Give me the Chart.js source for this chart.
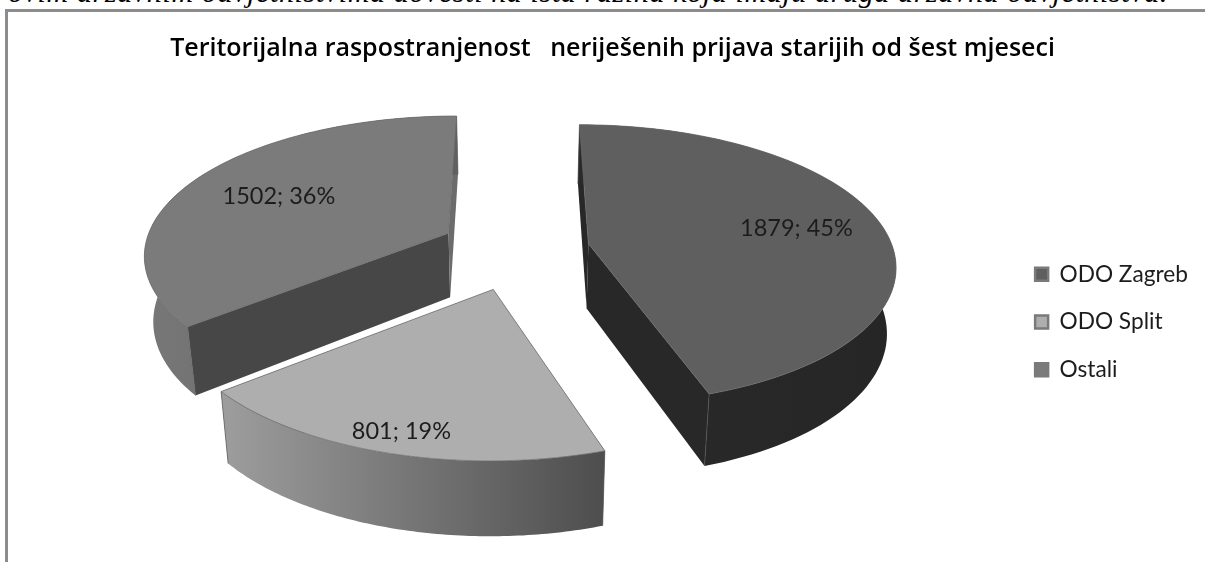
<!DOCTYPE html>
<html><head><meta charset="utf-8">
<style>
html,body{margin:0;padding:0;background:#fff;width:1205px;height:562px;overflow:hidden}
#line{position:absolute;left:8px;top:-25px;font:italic 30px "Liberation Serif",serif;white-space:nowrap;color:#000;letter-spacing:0.63px}
#frame{position:absolute;left:5px;top:9px;width:1210px;height:570px;border:3px solid #8c8c8c;box-sizing:border-box}
#wrap{position:absolute;left:0;top:0;width:1205px;height:562px}
</style>
<script src="https://cdn.jsdelivr.net/npm/chart.js@4"></script>
</head><body>
<div id="line">ovim državnim odvjetništvima dovesti na ista razina koja imaju druga državna odvjetništva.</div>
<div id="frame"></div>
<div id="wrap"><canvas id="c" width="1205" height="562"></canvas></div>
<script>
const titleText = 'Teritorijalna raspostranjenost   neriješenih prijava starijih od šest mjeseci';
const categories = ['ODO Zagreb', 'ODO Split', 'Ostali'];
const seriesValues = [1879, 801, 1502];
const topColors = ['#5f5f5f', '#aeaeae', '#7b7b7b'];
const faceColors = ['#282828', '#777777', '#474747'];
const endFaceColors = ['#282828', '#777777', '#6c6c6c'];
const rimLeft = ['#2a2a2a', '#9c9c9c', '#777777'];
const rimRight = ['#262626', '#4e4e4e', '#5f5f5f'];
const cornerLines = ['#555555', '#5a5a5a', '#666666'];
const labelReach = [0.71, 0.88, 0.66];
const paintOrder = [2, 0, 1];
const P = {cx:515, vy:-1070, yh:1320, d:2850, rx:305, rz:310, exX:0.87, ext:65, xk:0.00012};

function project(X, Z, h){
  const f = P.d/(P.d-Z);
  return [P.cx + X*f*(1+P.xk*Z)*(1-0.024*h), P.vy + P.yh*f + h*P.ext*f];
}
function locate(el, theta, r, h){
  const a0 = el.startAngle+Math.PI/2, a1 = el.endAngle+Math.PI/2, mid=(a0+a1)/2;
  const off = el.options.offset;
  const ox = Math.sin(mid)*off*P.exX, oz = -Math.cos(mid)*off;
  const c = Math.cos(theta);
  return project(ox + P.rx*r*Math.sin(theta), oz - P.rz*r*(0.96*c-0.04*c*c), h);
}
function poly(ctx, pts, fill, stroke){
  ctx.beginPath();
  pts.forEach((p,i)=> i?ctx.lineTo(p[0],p[1]):ctx.moveTo(p[0],p[1]));
  ctx.closePath();
  ctx.fillStyle = fill; ctx.fill();
  if(stroke){ctx.strokeStyle=stroke;ctx.lineWidth=0.7;ctx.stroke();}
}
const pie3d = {
  id:'pie3d',
  beforeDatasetsDraw(chart){
    const ctx = chart.ctx, meta = chart.getDatasetMeta(0);
    ctx.save();
    paintOrder.forEach(i=>{
      const el = meta.data[i];
      const a0 = el.startAngle+Math.PI/2, a1 = el.endAngle+Math.PI/2;
      const n = 90, top=[], low=[];
      for(let k=0;k<=n;k++){
        const t=a0+(a1-a0)*k/n;
        top.push(locate(el,t,1,0)); low.push(locate(el,t,1,1));
      }
      const apex=locate(el,a0,0,0), apexLow=locate(el,a0,0,1);
      poly(ctx,[apex,top[0],low[0],apexLow],faceColors[i]);
      poly(ctx,[apex,top[n],low[n],apexLow],endFaceColors[i]);
      const xs=low.map(p=>p[0]);
      const g=ctx.createLinearGradient(Math.min(...xs),0,Math.max(...xs),0);
      g.addColorStop(0,rimLeft[i]); g.addColorStop(1,rimRight[i]);
      poly(ctx,top.concat(low.slice().reverse()),g);
      ctx.strokeStyle=cornerLines[i];ctx.lineWidth=0.7;
      [0,n].forEach(k=>{ctx.beginPath();ctx.moveTo(top[k][0],top[k][1]);ctx.lineTo(low[k][0],low[k][1]);ctx.stroke();});
      poly(ctx,[apex].concat(top),topColors[i],'#6a6a6a');
    });
    const total = seriesValues.reduce((a,b)=>a+b,0);
    ctx.fillStyle='#1c1c1c';
    ctx.font='23.5px Lato';
    ctx.textAlign='center'; ctx.textBaseline='middle';
    meta.data.forEach((el,i)=>{
      const mid=(el.startAngle+el.endAngle)/2+Math.PI/2;
      const p=locate(el,mid,labelReach[i],0);
      ctx.fillText(seriesValues[i]+'; '+Math.round(seriesValues[i]/total*100)+'%',p[0],p[1]);
    });
    ctx.restore();
    return false;
  }
};
new Chart(document.getElementById('c'),{
  type:'pie',
  data:{labels:categories,datasets:[{data:seriesValues,backgroundColor:topColors,borderColor:'#7a7a7a',borderWidth:2.5,offset:86,hoverOffset:0}]},
  plugins:[pie3d],
  options:{
    responsive:false,animation:false,
    layout:{padding:{left:27,right:7,top:0,bottom:0}},
    plugins:{
      tooltip:{enabled:false},
      title:{display:true,text:titleText,color:'#000',font:{family:'Open Sans',size:25,weight:'600'},padding:{top:34,bottom:18}},
      legend:{position:'right',fullSize:false,labels:{color:'#1c1c1c',font:{family:'Lato',size:22.7},boxWidth:13,boxHeight:13,padding:25}}
    }
  }
});
</script>
</body></html>
